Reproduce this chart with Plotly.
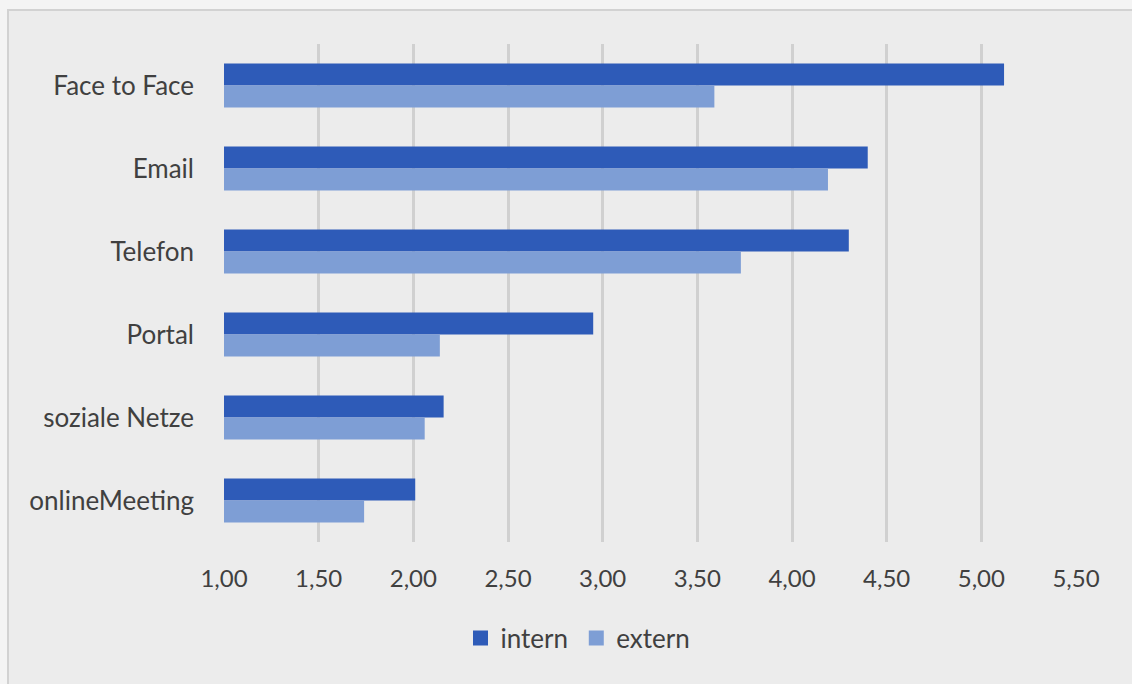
import plotly.graph_objects as go

# Communication channels, top to bottom
channels = ["Face to Face", "Email", "Telefon", "Portal", "soziale Netze", "onlineMeeting"]
intern = [5.12, 4.40, 4.30, 2.95, 2.16, 2.01]
extern = [3.59, 4.19, 3.73, 2.14, 2.06, 1.74]

series_names = ["intern", "extern"]
series_colors = ["#2E5BB8", "#7E9ED5"]

W, H = 1132, 684
L, R, T, B = 224, 56, 44, 142
pw, ph = W - L - R, H - T - B

font_family = "Lato, Open Sans, sans-serif"
text_color = "#404040"


def px_x(p):
    return (p - L) / pw


def px_y(p):
    return (H - B - p) / ph


fig = go.Figure()
for i, (name, vals, col) in enumerate(zip(series_names, [intern, extern], series_colors)):
    fig.add_trace(go.Bar(
        y=channels, x=vals, base=0, name=name, orientation="h",
        marker=dict(color=col, line=dict(width=0)),
        showlegend=False, legendgroup=name,
    ))
    # square legend keys
    fig.add_trace(go.Scatter(
        x=[None], y=[None], mode="markers",
        name=name + ("\u2009" if i == 0 else ""), legendgroup=name,
        marker=dict(symbol="square", size=15, color=col, line=dict(width=0)),
        showlegend=True,
    ))

# framed chart background
fig.add_shape(
    type="rect", xref="paper", yref="paper", layer="below",
    x0=px_x(8), x1=px_x(W + 20), y0=px_y(H + 20), y1=px_y(10),
    fillcolor="#ececec", line=dict(color="#d2d2d2", width=2),
)

fig.update_layout(
    width=W, height=H,
    margin=dict(l=L, r=R, t=T, b=B, autoexpand=False),
    paper_bgcolor="#f4f4f4",
    plot_bgcolor="rgba(0,0,0,0)",
    barmode="group", bargap=0.47, bargroupgap=0,
    separators=",.",
    font=dict(family=font_family, size=24, color=text_color),
    xaxis=dict(
        range=[1, 5.5], tick0=1, dtick=0.5, tickformat=".2f",
        showgrid=True, gridcolor="#d0d0d0", gridwidth=2.5,
        zeroline=False, showline=False, ticks="",
        ticklabelstandoff=20,
        tickfont=dict(size=24, color=text_color),
    ),
    yaxis=dict(
        categoryorder="array", categoryarray=channels, autorange="reversed",
        showgrid=False, zeroline=False, showline=False, ticks="",
        ticklabelstandoff=29,
        tickfont=dict(size=26, color=text_color),
    ),
    legend=dict(
        orientation="h", x=px_x(578), xanchor="center",
        y=px_y(638), yanchor="middle",
        font=dict(size=26, color=text_color),
        itemwidth=30, bgcolor="rgba(0,0,0,0)",
    ),
)

fig.write_html("out.html")
